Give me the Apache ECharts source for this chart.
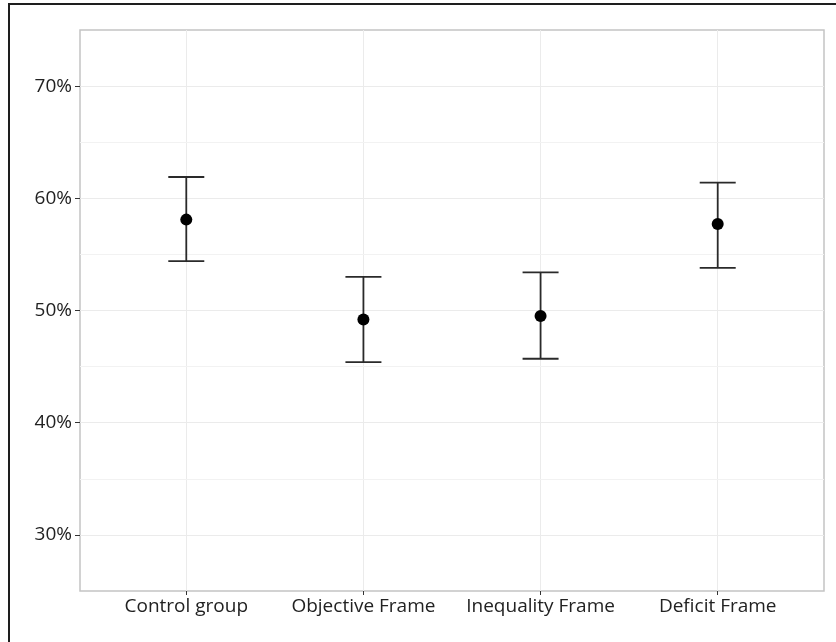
<!DOCTYPE html>
<html>
<head>
<meta charset="utf-8">
<script src="https://cdn.jsdelivr.net/npm/echarts@6/dist/echarts.min.js"></script>
<style>
html,body{margin:0;padding:0;background:#fff;}
#frame{position:absolute;left:8px;top:3px;width:828px;height:639px;border-left:2px solid #1e1e1e;border-top:2px solid #1e1e1e;box-sizing:border-box;pointer-events:none;z-index:2;}
#chart{position:absolute;left:0;top:0;width:836px;height:642px;}
</style>
</head>
<body>
<div id="chart"></div>
<div id="frame"></div>
<script>
const categories = ['Control group', 'Objective Frame', 'Inequality Frame', 'Deficit Frame'];
const means = [58.1, 49.2, 49.5, 57.7];
const lower = [54.4, 45.4, 45.7, 53.8];
const upper = [61.9, 53.0, 53.4, 61.4];
const yTicks = [30, 40, 50, 60, 70];
const yMinor = [35, 45, 55, 65];
const xPositions = [1, 2, 3, 4];

const chart = echarts.init(document.getElementById('chart'), null, {renderer: 'canvas'});
const textStyle = {color: '#222', fontFamily: 'Open Sans', fontSize: 19};
const gridColor = '#ebebeb';

const errData = categories.map((c, i) => [xPositions[i], lower[i], upper[i]]);
const ptData = categories.map((c, i) => [xPositions[i], means[i]]);

const option = {
  animation: false,
  backgroundColor: '#fff',
  grid: {left: 80, top: 30, right: 12, bottom: 51, show: true, borderColor: '#c4c4c4', borderWidth: 1.5, backgroundColor: '#fff'},
  xAxis: {
    type: 'value', min: 0.4, max: 4.6,
    axisLine: {show: false},
    splitLine: {show: false},
    axisTick: {show: true, customValues: xPositions, length: 4, lineStyle: {color: '#333', width: 1}},
    axisLabel: Object.assign({show: true, customValues: xPositions, margin: 6,
      formatter: v => categories[Math.round(v) - 1] || ''}, textStyle)
  },
  yAxis: {
    type: 'value', min: 25, max: 75,
    axisLine: {show: false},
    splitLine: {show: false},
    axisTick: {show: true, customValues: yTicks, length: 5, lineStyle: {color: '#333', width: 1}},
    axisLabel: Object.assign({show: true, customValues: yTicks, margin: 8,
      formatter: v => v + '%'}, textStyle)
  },
  series: [
    {
      type: 'line', data: [], silent: true, z: 1,
      markLine: {
        silent: true, symbol: 'none', label: {show: false}, z: 1,
        lineStyle: {color: gridColor, width: 1, type: 'solid'},
        emphasis: {disabled: true},
        data: [].concat(
          xPositions.map(v => ({xAxis: v})),
          yTicks.map(v => ({yAxis: v})),
          yMinor.map(v => ({yAxis: v, lineStyle: {color: '#f2f2f2', width: 1, type: 'solid'}}))
        )
      }
    },
    {
      type: 'custom', z: 6,
      data: errData,
      renderItem: function (params, api) {
        const x = api.value(0);
        const lo = api.coord([x, api.value(1)]);
        const hi = api.coord([x, api.value(2)]);
        const hw = 18;
        const style = {stroke: '#2a2a2a', lineWidth: 1.8, fill: null};
        return {
          type: 'group',
          children: [
            {type: 'line', shape: {x1: lo[0], y1: lo[1], x2: hi[0], y2: hi[1]}, style: style},
            {type: 'line', shape: {x1: lo[0] - hw, y1: lo[1], x2: lo[0] + hw, y2: lo[1]}, style: style},
            {type: 'line', shape: {x1: hi[0] - hw, y1: hi[1], x2: hi[0] + hw, y2: hi[1]}, style: style}
          ]
        };
      }
    },
    {
      type: 'scatter', z: 7,
      data: ptData,
      symbol: 'circle', symbolSize: 12,
      itemStyle: {color: '#000', opacity: 1}
    }
  ]
};
chart.setOption(option);
</script>
</body>
</html>
